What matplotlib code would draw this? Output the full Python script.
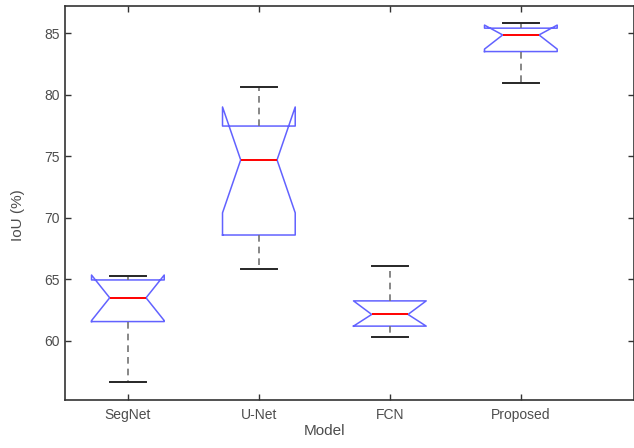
import numpy as np
import matplotlib
matplotlib.use('Agg')
import matplotlib.pyplot as plt

plt.rcParams['font.family'] = ['Liberation Sans', 'DejaVu Sans']

models = ['SegNet', 'U-Net', 'FCN', 'Proposed']
q1 = [61.57, 68.6, 61.2, 83.5]
med = [63.5, 74.7, 62.15, 84.85]
q3 = [64.95, 77.45, 63.25, 85.4]
whislo = [56.7, 65.8, 60.35, 80.96]
whishi = [65.3, 80.6, 66.1, 85.8]
cilo = [61.65, 70.4, 61.2, 83.7]
cihi = [65.35, 79.0, 63.25, 85.65]

stats = []
for i, m in enumerate(models):
    stats.append({'label': m, 'q1': q1[i], 'med': med[i], 'q3': q3[i],
                  'whislo': whislo[i], 'whishi': whishi[i],
                  'cilo': cilo[i], 'cihi': cihi[i], 'fliers': []})

fig = plt.figure(figsize=(6.34, 4.48), dpi=100)
ax = fig.add_axes([65/634, 48/448, (633.5-65)/634, (400-6)/448])

ax.bxp(stats, positions=[1, 2, 3, 4], widths=0.555, capwidths=0.27,
       shownotches=True, showfliers=False,
       boxprops=dict(color='#3b3bff', lw=1.1, alpha=0.8),
       medianprops=dict(color='red', lw=1.4),
       whiskerprops=dict(color='0.45', lw=1.2, ls=(0, (4, 3))),
       capprops=dict(color='0.15', lw=1.4))

ax.set_xlim(0.52, 4.86)
ax.set_ylim(55.2, 87.2)
ax.set_yticks([60, 65, 70, 75, 80, 85])
ax.set_xticks([1, 2, 3, 4])
ax.set_xticklabels(models)
ax.tick_params(direction='in', length=4, width=1, colors='0.2', labelcolor='0.3',
               labelsize=10, top=True, right=True)
ax.tick_params(axis='x', pad=6)
for s in ax.spines.values():
    s.set_color('0.2')
    s.set_linewidth(1.2)

ax.set_xlabel('Model', fontsize=11, color='0.3')
ax.set_ylabel('IoU (%)', fontsize=11, color='0.3')
ax.xaxis.set_label_coords(0.457, -0.06)
ax.yaxis.set_label_coords(-0.071, 0.47)

plt.savefig('out.png', dpi=100)
